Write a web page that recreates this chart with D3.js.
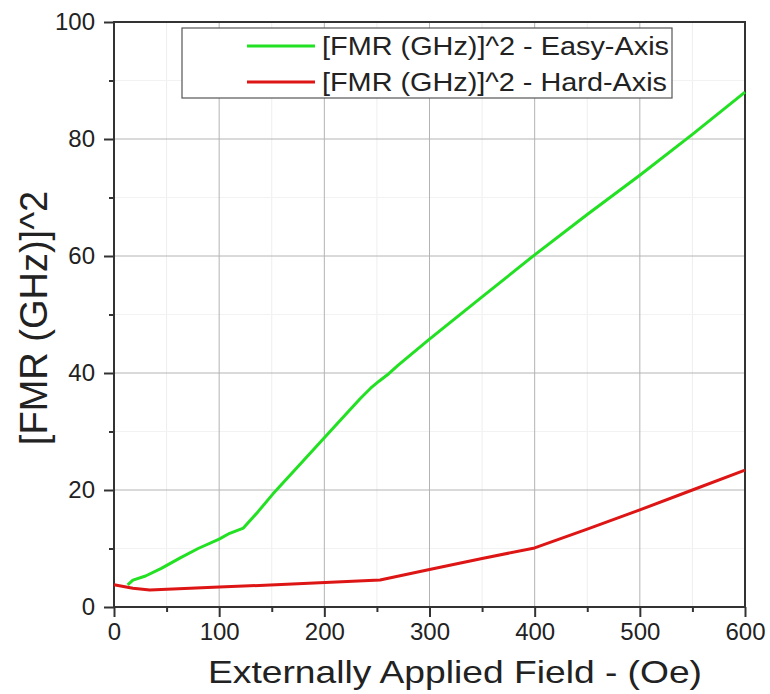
<!DOCTYPE html>
<html><head><meta charset="utf-8">
<script src="https://cdn.jsdelivr.net/npm/d3@7"></script>
<style>body{margin:0;background:#fff;} svg{display:block;font-family:"Liberation Sans",Arial,sans-serif;}</style>
</head><body><svg id="c" width="770" height="694"></svg>
<script>
const easyX = [13, 18, 30, 45, 63, 80, 100, 110, 123, 137, 151, 180, 210, 234, 244, 252, 260, 270, 300, 350, 400, 450, 500, 550, 600];
const easyY = [3.8, 4.6, 5.3, 6.6, 8.4, 10.0, 11.6, 12.6, 13.5, 16.3, 19.3, 25.0, 30.9, 35.6, 37.4, 38.6, 39.7, 41.3, 45.8, 53.0, 60.2, 67.1, 73.8, 80.8, 88.0];
const hardX = [0, 18, 34, 100, 180, 253, 300, 350, 400, 450, 500, 550, 600];
const hardY = [3.8, 3.2, 2.9, 3.4, 4.0, 4.6, 6.4, 8.3, 10.1, 13.3, 16.6, 20.0, 23.4];
const xTicks = [0, 100, 200, 300, 400, 500, 600];
const yTicks = [0, 20, 40, 60, 80, 100];
const seriesNames = ["[FMR (GHz)]^2 - Easy-Axis", "[FMR (GHz)]^2 - Hard-Axis"];
const seriesColors = ["#22e022", "#dd1515"];
const xTitle = "Externally Applied Field - (Oe)";
const yTitle = "[FMR (GHz)]^2";

const svg = d3.select("#c");
const x = d3.scaleLinear().domain([0, 600]).range([114, 745]);
const y = d3.scaleLinear().domain([0, 100]).range([607, 22]);

// minor grid
const gGrid = svg.append("g");
gGrid.selectAll(".mgx").data(d3.range(50, 600, 100)).enter().append("line")
  .attr("x1", d => x(d)).attr("x2", d => x(d)).attr("y1", y(0)).attr("y2", y(100))
  .attr("stroke", "#eeeeee").attr("stroke-width", 1);
gGrid.selectAll(".mgy").data(d3.range(10, 100, 20)).enter().append("line")
  .attr("y1", d => y(d)).attr("y2", d => y(d)).attr("x1", x(0)).attr("x2", x(600))
  .attr("stroke", "#f2f2f2").attr("stroke-width", 1);
// major grid
gGrid.selectAll(".gx").data(xTicks.slice(1, -1)).enter().append("line")
  .attr("x1", d => x(d)).attr("x2", d => x(d)).attr("y1", y(0)).attr("y2", y(100))
  .attr("stroke", "#b4b4b4").attr("stroke-width", 1);
gGrid.selectAll(".gy").data(yTicks.slice(1, -1)).enter().append("line")
  .attr("y1", d => y(d)).attr("y2", d => y(d)).attr("x1", x(0)).attr("x2", x(600))
  .attr("stroke", "#b4b4b4").attr("stroke-width", 1);

// axes
const xAxis = d3.axisBottom(x).tickValues(xTicks).tickSize(10).tickPadding(6).tickFormat(d3.format("d"));
const yAxis = d3.axisLeft(y).tickValues(yTicks).tickSize(10).tickPadding(9).tickFormat(d3.format("d"));
const xMinor = d3.axisBottom(x).tickValues(d3.range(50, 600, 100)).tickSize(5).tickFormat("");
const yMinor = d3.axisLeft(y).tickValues(d3.range(10, 100, 20)).tickSize(5).tickFormat("");

function styleAxis(g) {
  g.select(".domain").remove();
  g.selectAll("line").attr("stroke", "#333").attr("stroke-width", 2);
  g.selectAll("text").attr("fill", "#222").style("font-size", "24px").style("font-family", "'Liberation Sans',Arial,sans-serif");
}
svg.append("g").attr("transform", `translate(0,${y(0)})`).call(xMinor).call(styleAxis);
svg.append("g").attr("transform", `translate(${x(0)},0)`).call(yMinor).call(styleAxis);
svg.append("g").attr("transform", `translate(0,${y(0)})`).call(xAxis).call(styleAxis);
svg.append("g").attr("transform", `translate(${x(0)},0)`).call(yAxis).call(styleAxis);

// frame
svg.append("rect").attr("x", x(0)).attr("y", y(100)).attr("width", x(600) - x(0)).attr("height", y(0) - y(100))
  .attr("fill", "none").attr("stroke", "#333").attr("stroke-width", 2);

// lines
const line = d3.line().x(d => x(d[0])).y(d => y(d[1]));
const easy = easyX.map((v, i) => [v, easyY[i]]);
const hard = hardX.map((v, i) => [v, hardY[i]]);
svg.append("path").datum(hard).attr("d", line).attr("fill", "none").attr("stroke", seriesColors[1]).attr("stroke-width", 3).attr("stroke-linejoin", "round");
svg.append("path").datum(easy).attr("d", line).attr("fill", "none").attr("stroke", seriesColors[0]).attr("stroke-width", 3).attr("stroke-linejoin", "round");

// legend
const lg = svg.append("g");
lg.append("rect").attr("x", 182).attr("y", 28).attr("width", 490).attr("height", 70)
  .attr("fill", "#fff").attr("stroke", "#555").attr("stroke-width", 1.2);
const legRows = [{ y: 46, base: 55, len: 347 }, { y: 82, base: 91, len: 345 }];
seriesNames.forEach((n, i) => {
  lg.append("line").attr("x1", 247).attr("x2", 315).attr("y1", legRows[i].y).attr("y2", legRows[i].y)
    .attr("stroke", seriesColors[i]).attr("stroke-width", 3);
  lg.append("text").attr("x", 322).attr("y", legRows[i].base).text(n)
    .attr("fill", "#222").style("font-size", "26px")
    .attr("textLength", legRows[i].len).attr("lengthAdjust", "spacingAndGlyphs");
});

// titles
svg.append("text").attr("x", 208).attr("y", 683).text(xTitle).attr("fill", "#222")
  .style("font-size", "32px").attr("textLength", 494).attr("lengthAdjust", "spacingAndGlyphs");
svg.append("text").attr("transform", "translate(47,318) rotate(-90)").attr("text-anchor", "middle")
  .text(yTitle).attr("fill", "#222").style("font-size", "38px");
</script></body></html>
